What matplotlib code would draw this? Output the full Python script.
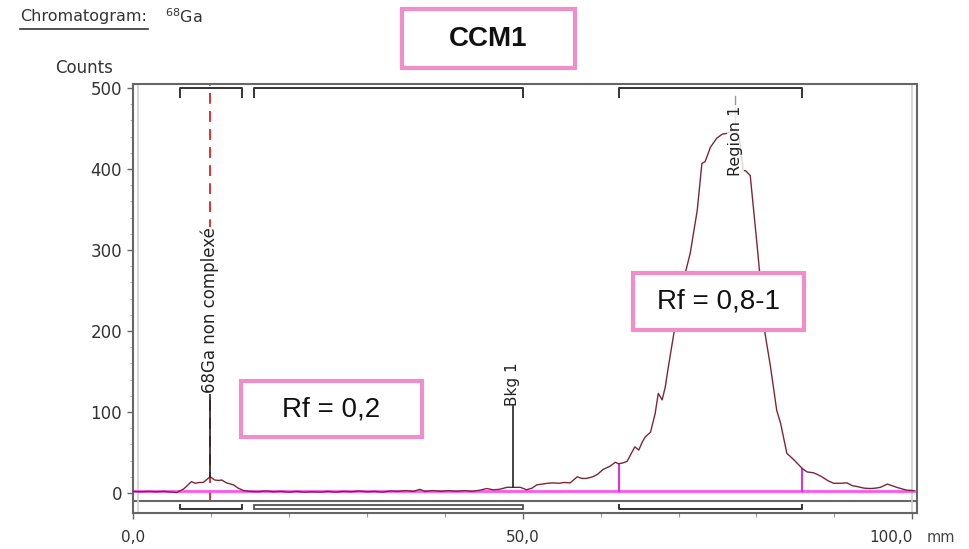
import numpy as np
import matplotlib.pyplot as plt
from matplotlib.patches import Rectangle
from matplotlib.ticker import MultipleLocator, FixedLocator

# chromatogram trace (mm, counts)
position_mm = [0, 1, 2, 3, 4, 5, 5.6, 6.5, 7.5, 8, 8.5, 9, 9.9, 10.5, 11, 11.4, 12, 12.9,
               13.5, 14.2, 15, 16, 17, 18, 19, 20, 21, 22, 23, 24, 25, 26, 27, 28, 29, 30,
               31, 32, 33, 34, 35, 36, 36.8, 37.5, 38.5, 39.5, 40.5, 41.5, 42.5, 43.5, 44.5,
               45.4, 46.2, 47, 48, 48.7, 49.7, 50.5, 51.2, 51.8, 52.5, 53.2, 53.9, 54.7, 55.3,
               56.1, 57, 57.6, 58.2, 59, 59.6, 60.3, 61.2, 61.9, 62.3, 62.8, 63.4, 64, 64.4,
               64.9, 65.3, 65.7, 66.4, 67, 67.4, 67.9, 68.3, 68.7, 69.4, 70.2, 70.9, 71.5, 72.4,
               73, 73.4, 74.1, 74.9, 75.6, 76.2, 76.8, 77.3, 77.8, 78.3, 78.6, 79.2, 79.6, 80.1,
               80.4, 81.1, 81.8, 82.6, 83.1, 83.9, 84.8, 85.4, 85.9, 86.5, 87.3, 87.8, 88.4,
               89.2, 89.9, 90.8, 91.6, 92.3, 92.9, 93.8, 94.6, 95.3, 95.9, 96.8, 97.4, 98, 98.7,
               99.3, 100.2]
counts = [2, 1.5, 2, 1.5, 2, 1, 0.5, 5, 14, 12, 13, 13, 20, 16, 15.5, 16, 12.5, 10,
          6, 3, 2, 1.5, 2.5, 1.5, 2, 1, 2, 1, 1.5, 1, 2, 1, 2, 1.5, 2.5, 1.5,
          2, 1, 2.5, 2, 3, 2, 4.5, 2, 3, 2, 3, 2, 3, 2, 3.5,
          5.5, 4, 4.5, 7, 7, 7, 4, 6, 10, 11, 12, 12.5, 12, 13,
          12.5, 20, 18, 18, 20, 23, 29, 33, 38, 36, 37, 39, 50, 57,
          53, 62, 69, 75, 98, 123, 115, 131, 156, 197, 240, 273, 296, 349,
          407, 409, 427, 438, 443, 444, 447, 448, 440, 398, 398, 392, 353, 304,
          273, 197, 156, 102, 86, 49, 41, 35, 30, 26, 25, 23, 20,
          15, 12, 12, 12.5, 9, 8, 6, 5.5, 6, 7, 11, 9, 7, 5,
          3.5, 3]
baseline = 3

# regions (mm)
regions = [(6.0, 14.0), (15.5, 50.0), (62.3, 85.9)]
free_ga_pos = 9.9
bkg_pos = 48.7
region1_pos = 77.3
peak_limits = [62.3, 85.9]

x_ticks = [0, 50, 100]
x_labels = ['0,0', '50,0', '100,0']
y_ticks = [0, 100, 200, 300, 400, 500]

fig = plt.figure(figsize=(9.69, 5.49), dpi=100)
W, H = 969, 549
ax = fig.add_axes([133 / W, 1 - 513 / H, (917 - 133) / W, (513 - 84) / H])
ax.set_xlim(0, 100.6)
ax.set_ylim(-24.7, 505)

for s in ax.spines.values():
    s.set_color('#666666')
    s.set_linewidth(1.5)

ax.axhline(-9.5, color='#666666', lw=1.5)
ax.axvline(0.7, color='#d0d0d0', lw=1.2)
ax.axvline(100, color='#d0d0d0', lw=1.2)

# baseline and trace
ax.plot([0, 100.6], [baseline, baseline], color='#ff55ee', lw=2, zorder=2)
ax.plot(position_mm, counts, color='#7a2838', lw=1.0, zorder=3)
for p in peak_limits:
    ax.plot([p, p], [baseline, np.interp(p, position_mm, counts)], color='#dd33dd', lw=1.5, zorder=2)

# brackets top and bottom
for i, (a, b) in enumerate(regions):
    ax.plot([a, a, b, b], [489, 500, 500, 489], color='#333333', lw=1.4, clip_on=False)
    if i == 1:
        ax.add_patch(Rectangle((a, -20), b - a, 5, fill=False, ec='#444444', lw=1.2))
    else:
        ax.plot([a, a, b, b], [-15, -20, -20, -15], color='#333333', lw=1.4)

# 68Ga marker
ax.plot([free_ga_pos, free_ga_pos], [-9.5, 505], color='#e02020', lw=1.3,
        dashes=(6, 4), zorder=1)
ax.plot([free_ga_pos, free_ga_pos], [np.interp(free_ga_pos, position_mm, counts), 123],
        color='#222222', lw=1.2, zorder=4)
ax.text(free_ga_pos, 123, '68Ga non complexé', rotation=90, ha='center', va='bottom',
        fontsize=12, color='#222222', zorder=5,
        bbox=dict(fc='white', ec='none', pad=0.5))

# Bkg 1
ax.plot([bkg_pos, bkg_pos], [np.interp(bkg_pos, position_mm, counts), 108],
        color='#222222', lw=1.2, zorder=4)
ax.text(bkg_pos, 108, 'Bkg 1', rotation=90, ha='center', va='bottom',
        fontsize=11, color='#222222', zorder=5)

# Region 1
ax.plot([region1_pos, region1_pos], [np.interp(region1_pos, position_mm, counts), 490],
        color='#999999', lw=1, zorder=4)
ax.text(region1_pos, 392, 'Region 1', rotation=90, ha='center', va='bottom',
        fontsize=11.5, color='#222222', zorder=5,
        bbox=dict(fc='white', ec='none', alpha=0.8, pad=0.5))

# ticks
ax.xaxis.set_major_locator(FixedLocator(x_ticks))
ax.set_xticklabels(x_labels)
ax.get_xticklabels()[-1].set_horizontalalignment('right')
ax.xaxis.set_minor_locator(MultipleLocator(10))
ax.yaxis.set_major_locator(FixedLocator(y_ticks))
ax.yaxis.set_minor_locator(FixedLocator(np.arange(0, 501, 20)))
ax.tick_params(axis='x', which='major', length=4, width=1, color='#666666',
               labelsize=11, pad=8, labelcolor='#333333')
ax.tick_params(axis='x', which='minor', length=3, width=0.8, color='#999999')
ax.tick_params(axis='y', which='major', length=4, width=1, color='#666666',
               labelsize=12, pad=4, labelcolor='#333333')
ax.tick_params(axis='y', which='minor', length=2, width=0.6, color='#aaaaaa')

fig.text(927 / W, 1 - 537 / H, 'mm', fontsize=10.5, color='#444444', va='center')
fig.text(55 / W, 1 - 68 / H, 'Counts', fontsize=12, color='#333333', va='center')
fig.text(20 / W, 1 - 17 / H, 'Chromatogram:', fontsize=11.5, color='#333333', va='center')
fig.add_artist(plt.Line2D([20 / W, 148 / W], [1 - 29 / H, 1 - 29 / H], color='#333333', lw=1.2))
fig.text(165 / W, 1 - 17 / H, r'$^{68}$Ga', fontsize=11.5, color='#333333', va='center')


# pink boxes
def pink_box(x0, y0, x1, y1, label, size, weight='normal'):
    fig.add_artist(Rectangle((x0 / W, 1 - y1 / H), (x1 - x0) / W, (y1 - y0) / H,
                             transform=fig.transFigure, fc='white', ec='#ef8ec8',
                             lw=3, zorder=10))
    fig.text((x0 + x1) / 2 / W, 1 - (y0 + y1) / 2 / H, label, fontsize=size,
             fontweight=weight, ha='center', va='center', color='#111111',
             family='Liberation Sans', zorder=11)


pink_box(402, 9, 575, 68, 'CCM1', 20, 'bold')
pink_box(241, 381, 422, 437, 'Rf = 0,2', 20)
pink_box(633, 273, 804, 330, 'Rf = 0,8-1', 20)

fig.savefig('out.png', dpi=100)
